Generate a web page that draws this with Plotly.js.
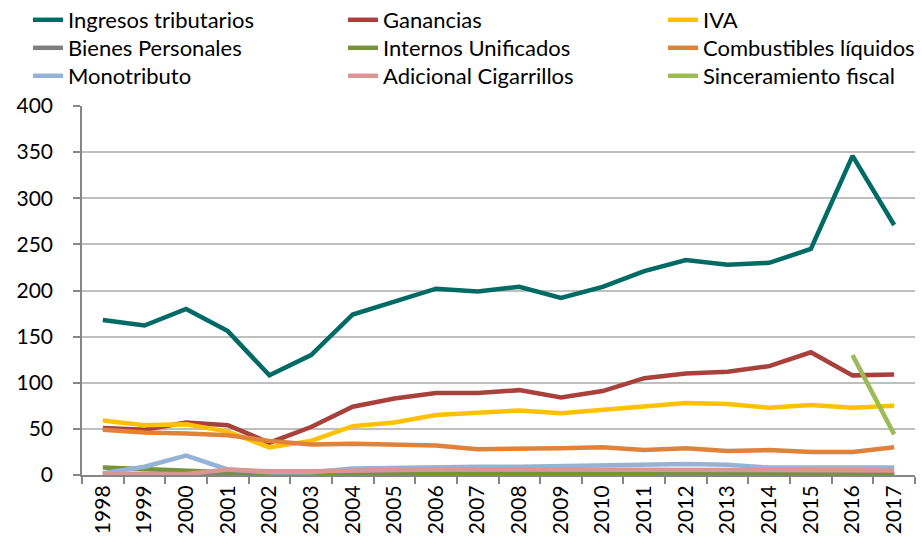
<!DOCTYPE html>
<html><head><meta charset="utf-8">
<script src="https://cdn.plot.ly/plotly-3.0.1.min.js"></script>
<style>html,body{margin:0;padding:0;background:#fff}#chart{width:922px;height:548px}</style>
</head><body><div id="chart"></div>
<script>
const years = ["1998","1999","2000","2001","2002","2003","2004","2005","2006","2007","2008","2009","2010","2011","2012","2013","2014","2015","2016","2017"];
const ingresosTributarios = [168,162,180,156,108,130,174,188,202,199,204,192,204,221,233,228,230,245,346,271];
const ganancias = [51,49,57,54,35,52,74,83,89,89,92,84,91,105,110,112,118,133,108,109];
const iva = [59,54,55,47,30,37,53,57,65,68,70,67,71,75,78,77,73,76,73,75];
const bienesPersonales = [1,1,1,1,2,2,2,2,2,2,2,2,2,2,2,2,2,2,2,2];
const internosUnificados = [8,6,4,3,3,2,2,1,1,1,1,1,1,1,1,1,1,1,1,1];
const combustibles = [49,46,45,43,37,33,34,33,32,28,28,29,30,27,29,26,27,25,25,30];
const monotributo = [2,9,21,6,3,3,7,8,9,9,9,10,10,11,12,11,8,8,8,8];
const adicionalCigarrillos = [1,1,1,6,4,4,5,5,6,6,6,6,6,6,6,6,6,6,5,5];
const sinceramiento = [null,null,null,null,null,null,null,null,null,null,null,null,null,null,null,null,null,null,130,44];

const seriesNames = ["Ingresos tributarios","Ganancias","IVA","Bienes Personales","Internos Unificados","Combustibles líquidos","Monotributo","Adicional Cigarrillos","Sinceramiento fiscal"];
const seriesData = [ingresosTributarios,ganancias,iva,bienesPersonales,internosUnificados,combustibles,monotributo,adicionalCigarrillos,sinceramiento];
const seriesColors = ["#006a64","#a8403c","#ffc000","#7f7f7f","#76933c","#e0823a","#95b3d7","#d99694","#9bbb59"];

const fam = "Lato, 'Open Sans', sans-serif";
const legFont = {family:fam, size:22, color:'#000'};
const colTextX = [70, 385, 705];
const rowY = [20, 48, 76];

const traces = seriesNames.map((n,i)=>({
  type:'scatter', mode:'lines', name:n, x:years, y:seriesData[i],
  line:{color:seriesColors[i], width:4.5}, connectgaps:false,
  legend: i===0 ? 'legend' : 'legend'+(i+1)
}));

const layout = {
  width:922, height:548,
  margin:{l:82, r:7, t:106, b:73, autoexpand:false},
  paper_bgcolor:'#fff', plot_bgcolor:'#fff',
  font:{family:fam, size:21, color:'#000'},
  showlegend:true,
  xaxis:{type:'category', range:[-0.5,19.5], tickangle:-90, ticks:'outside', ticklen:7, tickcolor:'#868686', tickwidth:2,
    tickson:'boundaries', showline:true, linecolor:'#868686', linewidth:2, showgrid:false,
    tickfont:{family:fam, size:21, color:'#000'}, fixedrange:true},
  yaxis:{range:[0,400], dtick:50, tick0:0, showgrid:true, gridcolor:'#bfbfbf', gridwidth:2,
    showline:true, linecolor:'#868686', linewidth:2, ticks:'outside', ticklen:7, tickcolor:'#868686', tickwidth:2,
    ticksuffix:'\u2003',
    zeroline:false, tickfont:{family:fam, size:21, color:'#000'}, fixedrange:true}
};
seriesNames.forEach((n,i)=>{
  const key = i===0 ? 'legend' : 'legend'+(i+1);
  const col = i % 3, row = Math.floor(i/3);
  layout[key] = {orientation:'v', x:(colTextX[col]-42-82)/833, xanchor:'left',
    y:1 + (106 - rowY[row])/369, yanchor:'middle',
    itemwidth:30, font:legFont, bgcolor:'rgba(0,0,0,0)', borderwidth:0};
});
Plotly.newPlot('chart', traces, layout, {displayModeBar:false, staticPlot:true});
</script></body></html>
